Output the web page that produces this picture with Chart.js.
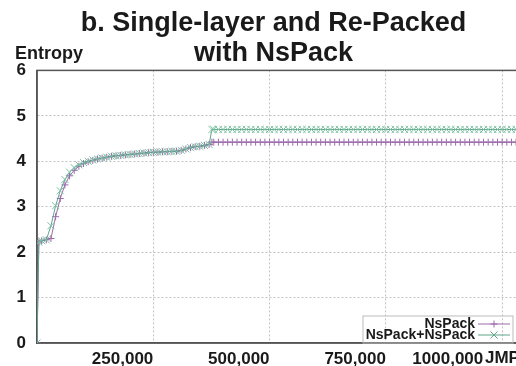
<!DOCTYPE html>
<html>
<head>
<meta charset="utf-8">
<script src="https://cdn.jsdelivr.net/npm/chart.js@4.4.0/dist/chart.umd.min.js"></script>
<style>
  html, body { margin: 0; padding: 0; background: #fff; overflow: hidden; }
  #wrap { width: 550px; height: 366px; }
</style>
</head>
<body>
<div id="wrap"><canvas id="entropyChart" width="550" height="366"></canvas></div>
<script>
// file offset, in thousands of bytes
const sizesK = [
  0, 4, 10, 20, 30, 40, 50, 60, 70, 80, 90, 100,
  110, 120, 130, 140, 150, 160, 170, 180, 190, 200, 210, 220,
  230, 240, 250, 260, 270, 280, 290, 300, 310, 320, 330, 340,
  350, 360, 370, 376, 380, 390, 400, 410, 420, 430, 440, 450,
  460, 470, 480, 490, 500, 510, 520, 530, 540, 550, 560, 570,
  580, 590, 600, 610, 620, 630, 640, 650, 660, 670, 680, 690,
  700, 710, 720, 730, 740, 750, 760, 770, 780, 790, 800, 810,
  820, 830, 840, 850, 860, 870, 880, 890, 900, 910, 920, 930,
  940, 950, 960, 970, 980, 990, 1000, 1010, 1020, 1030, 1040, 1050,
  1060, 1070, 1080, 1090
];

// entropy, single-layer NsPack
const nsPack = [
  0, 2.22, 2.25, 2.27, 2.3, 2.78, 3.18, 3.48, 3.68, 3.8, 3.89, 3.95,
  3.99, 4.02, 4.05, 4.07, 4.09, 4.11, 4.12, 4.13, 4.14, 4.15, 4.16, 4.17,
  4.18, 4.19, 4.2, 4.2, 4.21, 4.21, 4.22, 4.22, 4.24, 4.27, 4.3, 4.32,
  4.33, 4.35, 4.37, 4.42, 4.42, 4.42, 4.42, 4.42, 4.42, 4.42, 4.42, 4.42,
  4.42, 4.42, 4.42, 4.42, 4.42, 4.42, 4.42, 4.42, 4.42, 4.42, 4.42, 4.42,
  4.42, 4.42, 4.42, 4.42, 4.42, 4.42, 4.42, 4.42, 4.42, 4.42, 4.42, 4.42,
  4.42, 4.42, 4.42, 4.42, 4.42, 4.42, 4.42, 4.42, 4.42, 4.42, 4.42, 4.42,
  4.42, 4.42, 4.42, 4.42, 4.42, 4.42, 4.42, 4.42, 4.42, 4.42, 4.42, 4.42,
  4.42, 4.42, 4.42, 4.42, 4.42, 4.42, 4.42, 4.42, 4.42, 4.42, 4.42, 4.42,
  4.42, 4.42, 4.42, 4.42
];

// entropy, re-packed NsPack+NsPack
const nsPackTwice = [
  0, 2.22, 2.25, 2.27, 2.58, 3.02, 3.35, 3.6, 3.76, 3.86, 3.92, 3.97,
  4.0, 4.03, 4.05, 4.07, 4.09, 4.11, 4.12, 4.13, 4.14, 4.15, 4.16, 4.17,
  4.18, 4.19, 4.2, 4.2, 4.21, 4.21, 4.22, 4.22, 4.24, 4.27, 4.3, 4.32,
  4.33, 4.35, 4.37, 4.7, 4.7, 4.7, 4.7, 4.7, 4.7, 4.7, 4.7, 4.7,
  4.7, 4.7, 4.7, 4.7, 4.7, 4.7, 4.7, 4.7, 4.7, 4.7, 4.7, 4.7,
  4.7, 4.7, 4.7, 4.7, 4.7, 4.7, 4.7, 4.7, 4.7, 4.7, 4.7, 4.7,
  4.7, 4.7, 4.7, 4.7, 4.7, 4.7, 4.7, 4.7, 4.7, 4.7, 4.7, 4.7,
  4.7, 4.7, 4.7, 4.7, 4.7, 4.7, 4.7, 4.7, 4.7, 4.7, 4.7, 4.7,
  4.7, 4.7, 4.7, 4.7, 4.7, 4.7, 4.7, 4.7, 4.7, 4.7, 4.7, 4.7,
  4.7, 4.7, 4.7, 4.7
];

const xTickValues = [250000, 500000, 750000, 1000000];
const xTickLabels = ['250,000', '500,000', '750,000', '1000,000    '];

const purple = '#9b6aab';
const green = '#5fa58a';
const FONT = "'Liberation Sans', Arial, sans-serif";

const toPoints = arr => sizesK.map((k, i) => ({ x: k * 1000, y: arr[i] }));

const extras = {
  id: 'extras',
  beforeDatasetsDraw(chart) {
    const { ctx, chartArea: a } = chart;
    ctx.save();
    ctx.strokeStyle = '#555';
    ctx.lineWidth = 1.5;
    ctx.strokeRect(a.left, a.top, a.right - a.left, a.bottom - a.top);
    ctx.restore();
  },
  afterDraw(chart) {
    const { ctx, chartArea: a } = chart;
    ctx.save();
    ctx.fillStyle = '#1a1a1a';
    ctx.font = 'bold 18px ' + FONT;
    ctx.textBaseline = 'middle';
    ctx.textAlign = 'left';
    ctx.fillText('Entropy', 15, a.top - 16);

    // x axis name, cut off at the right edge like the original
    ctx.font = 'bold 17px ' + FONT;
    ctx.fillText('JMP', 485, a.bottom + 15);

    // key box, bottom right inside the plot
    const boxL = 363, boxR = 513, boxT = a.bottom - 27;
    ctx.strokeStyle = '#bbb';
    ctx.lineWidth = 1;
    ctx.strokeRect(boxL, boxT, boxR - boxL, a.bottom - boxT);
    ctx.font = 'bold 14px ' + FONT;
    ctx.textAlign = 'right';
    chart.data.datasets.forEach((ds, i) => {
      const y = boxT + 8 + i * 11;
      ctx.fillStyle = '#1a1a1a';
      ctx.fillText(ds.label, 475, y);
      ctx.strokeStyle = ds.borderColor;
      ctx.lineWidth = 1;
      ctx.beginPath();
      ctx.moveTo(478, y);
      ctx.lineTo(510, y);
      ctx.stroke();
      Chart.helpers.drawPoint(ctx, {
        pointStyle: ds.pointStyle, radius: ds.pointRadius, borderWidth: 1, rotation: 0
      }, 494, y);
    });
    ctx.restore();
  }
};

new Chart(document.getElementById('entropyChart'), {
  type: 'line',
  data: {
    datasets: [{
      label: 'NsPack',
      data: toPoints(nsPack),
      borderColor: purple,
      backgroundColor: purple,
      pointBorderColor: purple,
      pointStyle: 'cross',
      pointRadius: 3.5,
      pointBorderWidth: 1,
      borderWidth: 1,
      order: 1
    }, {
      label: 'NsPack+NsPack',
      data: toPoints(nsPackTwice),
      borderColor: green,
      backgroundColor: green,
      pointBorderColor: '#7cc0a2',
      pointStyle: 'crossRot',
      pointRadius: 5,
      pointBorderWidth: 1,
      borderWidth: 1,
      order: 0
    }]
  },
  options: {
    responsive: false,
    animation: false,
    layout: { padding: { left: 0, right: 3, top: 0, bottom: 0 } },
    plugins: {
      legend: { display: false },
      tooltip: { enabled: false },
      title: {
        display: true,
        text: ['b. Single-layer and Re-Packed', 'with NsPack'],
        color: '#1a1a1a',
        font: { family: FONT, size: 27, weight: 'bold', lineHeight: 1.1 },
        padding: { top: 9, bottom: 2 }
      }
    },
    scales: {
      x: {
        type: 'linear',
        min: 0,
        max: 1090000,
        afterFit: s => { s.height = 23; },
        afterBuildTicks: s => { s.ticks = [0].concat(xTickValues).map(v => ({ value: v })); },
        grid: { color: '#c2c2c2', drawTicks: false, lineWidth: 1 },
        border: { color: '#555', width: 1.5, dash: [2, 2] },
        ticks: {
          align: 'end',
          padding: 6,
          color: '#1a1a1a',
          font: { family: FONT, size: 17, weight: 'bold' },
          callback: v => {
            const i = xTickValues.indexOf(v);
            return i < 0 ? '' : xTickLabels[i];
          }
        }
      },
      y: {
        min: 0,
        max: 6,
        afterFit: s => { s.width = 37; },
        grid: { color: '#c2c2c2', drawTicks: false, lineWidth: 1 },
        border: { color: '#555', width: 1.5, dash: [2, 2] },
        ticks: {
          stepSize: 1,
          padding: 11,
          color: '#1a1a1a',
          font: { family: FONT, size: 17, weight: 'bold' }
        }
      }
    }
  },
  plugins: [extras]
});
</script>
</body>
</html>
